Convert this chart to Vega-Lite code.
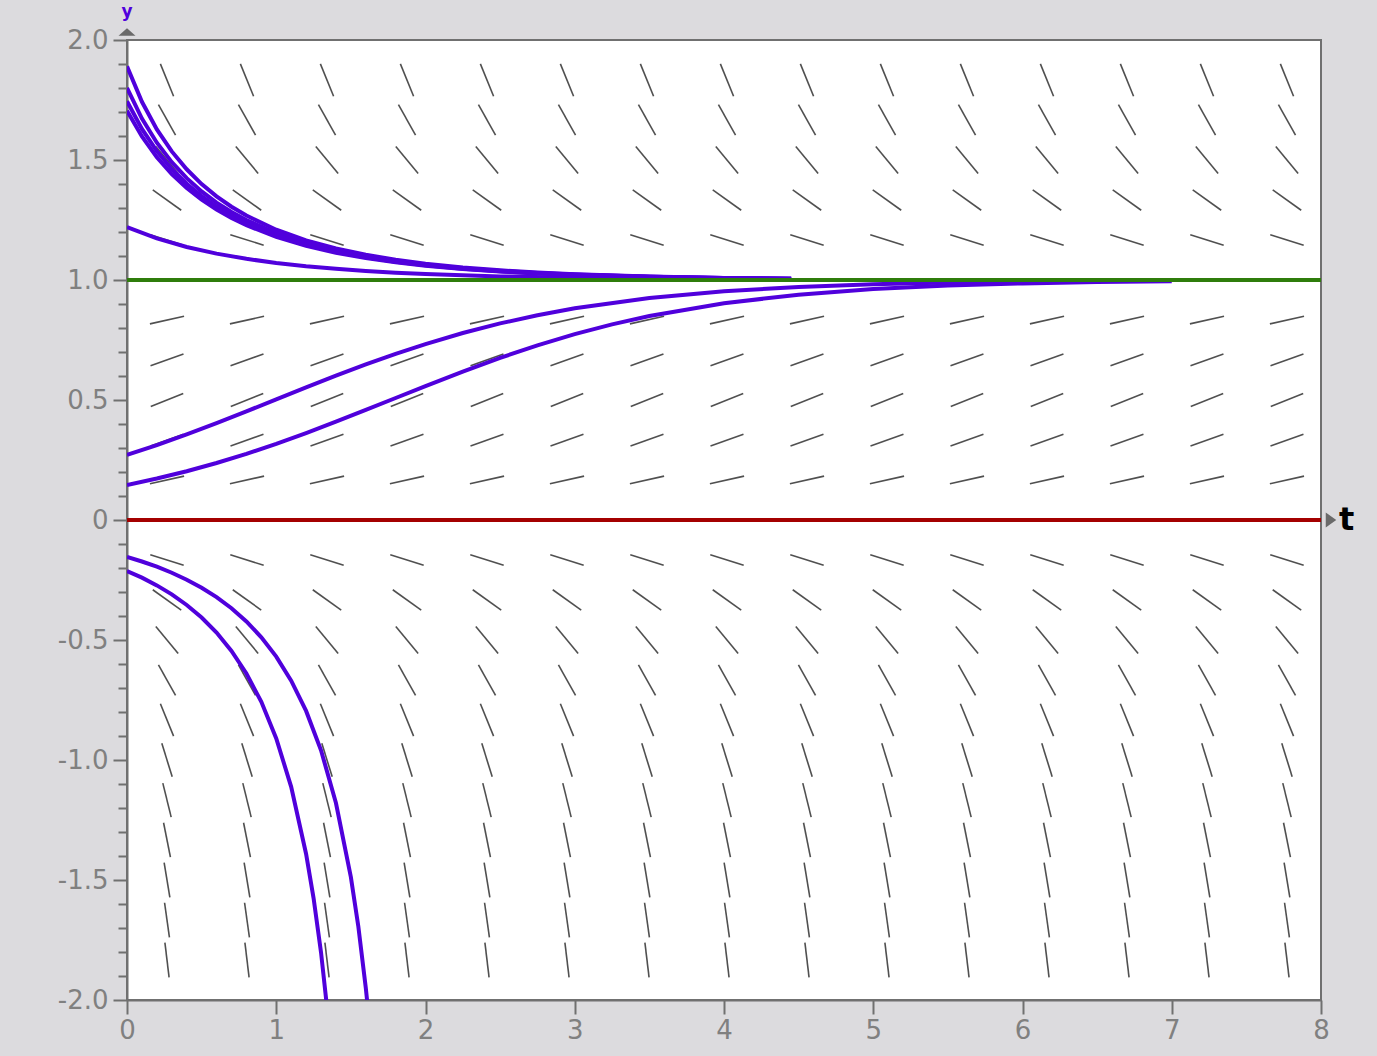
{
"$schema": "https://vega.github.io/schema/vega-lite/v6.json",
"width": 1194, "height": 960,
"autosize": {"type": "none"},
"padding": {"left": 127, "top": 40, "right": 56, "bottom": 56},
"background": "#dcdbde",
"config": {"view": {"fill": "#ffffff", "stroke": "#707070", "strokeWidth": 2}, "axis": {"grid": false},
"axisX": {"title": null, "values": [0,1,2,3,4,5,6,7,8], "labelExpr": "'' + datum.value", "tickSize": 14, "tickWidth": 2, "tickColor": "#707070", "domainColor": "#707070", "domainWidth": 2, "labelFont": "DejaVu Sans", "labelFontSize": 26, "labelColor": "#808080", "labelPadding": 3, "labelFlush": false, "labelOverlap": false}},
"datasets": {
"field": [
{"t":0.268,"y":1.833,"slope":-1.5278},{"t":0.804,"y":1.833,"slope":-1.5278},{"t":1.34,"y":1.833,"slope":-1.5278},{"t":1.876,"y":1.833,"slope":-1.5278},{"t":2.412,"y":1.833,"slope":-1.5278},{"t":2.948,"y":1.833,"slope":-1.5278},{"t":3.484,"y":1.833,"slope":-1.5278},{"t":4.02,"y":1.833,"slope":-1.5278},{"t":4.556,"y":1.833,"slope":-1.5278},{"t":5.092,"y":1.833,"slope":-1.5278},{"t":5.628,"y":1.833,"slope":-1.5278},{"t":6.164,"y":1.833,"slope":-1.5278},{"t":6.7,"y":1.833,"slope":-1.5278},{"t":7.236,"y":1.833,"slope":-1.5278},{"t":7.772,"y":1.833,"slope":-1.5278},
{"t":0.268,"y":1.667,"slope":-1.1111},{"t":0.804,"y":1.667,"slope":-1.1111},{"t":1.34,"y":1.667,"slope":-1.1111},{"t":1.876,"y":1.667,"slope":-1.1111},{"t":2.412,"y":1.667,"slope":-1.1111},{"t":2.948,"y":1.667,"slope":-1.1111},{"t":3.484,"y":1.667,"slope":-1.1111},{"t":4.02,"y":1.667,"slope":-1.1111},{"t":4.556,"y":1.667,"slope":-1.1111},{"t":5.092,"y":1.667,"slope":-1.1111},{"t":5.628,"y":1.667,"slope":-1.1111},{"t":6.164,"y":1.667,"slope":-1.1111},{"t":6.7,"y":1.667,"slope":-1.1111},{"t":7.236,"y":1.667,"slope":-1.1111},{"t":7.772,"y":1.667,"slope":-1.1111},
{"t":0.268,"y":1.5,"slope":-0.75},{"t":0.804,"y":1.5,"slope":-0.75},{"t":1.34,"y":1.5,"slope":-0.75},{"t":1.876,"y":1.5,"slope":-0.75},{"t":2.412,"y":1.5,"slope":-0.75},{"t":2.948,"y":1.5,"slope":-0.75},{"t":3.484,"y":1.5,"slope":-0.75},{"t":4.02,"y":1.5,"slope":-0.75},{"t":4.556,"y":1.5,"slope":-0.75},{"t":5.092,"y":1.5,"slope":-0.75},{"t":5.628,"y":1.5,"slope":-0.75},{"t":6.164,"y":1.5,"slope":-0.75},{"t":6.7,"y":1.5,"slope":-0.75},{"t":7.236,"y":1.5,"slope":-0.75},{"t":7.772,"y":1.5,"slope":-0.75},
{"t":0.268,"y":1.333,"slope":-0.4444},{"t":0.804,"y":1.333,"slope":-0.4444},{"t":1.34,"y":1.333,"slope":-0.4444},{"t":1.876,"y":1.333,"slope":-0.4444},{"t":2.412,"y":1.333,"slope":-0.4444},{"t":2.948,"y":1.333,"slope":-0.4444},{"t":3.484,"y":1.333,"slope":-0.4444},{"t":4.02,"y":1.333,"slope":-0.4444},{"t":4.556,"y":1.333,"slope":-0.4444},{"t":5.092,"y":1.333,"slope":-0.4444},{"t":5.628,"y":1.333,"slope":-0.4444},{"t":6.164,"y":1.333,"slope":-0.4444},{"t":6.7,"y":1.333,"slope":-0.4444},{"t":7.236,"y":1.333,"slope":-0.4444},{"t":7.772,"y":1.333,"slope":-0.4444},
{"t":0.268,"y":1.167,"slope":-0.1944},{"t":0.804,"y":1.167,"slope":-0.1944},{"t":1.34,"y":1.167,"slope":-0.1944},{"t":1.876,"y":1.167,"slope":-0.1944},{"t":2.412,"y":1.167,"slope":-0.1944},{"t":2.948,"y":1.167,"slope":-0.1944},{"t":3.484,"y":1.167,"slope":-0.1944},{"t":4.02,"y":1.167,"slope":-0.1944},{"t":4.556,"y":1.167,"slope":-0.1944},{"t":5.092,"y":1.167,"slope":-0.1944},{"t":5.628,"y":1.167,"slope":-0.1944},{"t":6.164,"y":1.167,"slope":-0.1944},{"t":6.7,"y":1.167,"slope":-0.1944},{"t":7.236,"y":1.167,"slope":-0.1944},{"t":7.772,"y":1.167,"slope":-0.1944},
{"t":0.268,"y":0.833,"slope":0.1389},{"t":0.804,"y":0.833,"slope":0.1389},{"t":1.34,"y":0.833,"slope":0.1389},{"t":1.876,"y":0.833,"slope":0.1389},{"t":2.412,"y":0.833,"slope":0.1389},{"t":2.948,"y":0.833,"slope":0.1389},{"t":3.484,"y":0.833,"slope":0.1389},{"t":4.02,"y":0.833,"slope":0.1389},{"t":4.556,"y":0.833,"slope":0.1389},{"t":5.092,"y":0.833,"slope":0.1389},{"t":5.628,"y":0.833,"slope":0.1389},{"t":6.164,"y":0.833,"slope":0.1389},{"t":6.7,"y":0.833,"slope":0.1389},{"t":7.236,"y":0.833,"slope":0.1389},{"t":7.772,"y":0.833,"slope":0.1389},
{"t":0.268,"y":0.667,"slope":0.2222},{"t":0.804,"y":0.667,"slope":0.2222},{"t":1.34,"y":0.667,"slope":0.2222},{"t":1.876,"y":0.667,"slope":0.2222},{"t":2.412,"y":0.667,"slope":0.2222},{"t":2.948,"y":0.667,"slope":0.2222},{"t":3.484,"y":0.667,"slope":0.2222},{"t":4.02,"y":0.667,"slope":0.2222},{"t":4.556,"y":0.667,"slope":0.2222},{"t":5.092,"y":0.667,"slope":0.2222},{"t":5.628,"y":0.667,"slope":0.2222},{"t":6.164,"y":0.667,"slope":0.2222},{"t":6.7,"y":0.667,"slope":0.2222},{"t":7.236,"y":0.667,"slope":0.2222},{"t":7.772,"y":0.667,"slope":0.2222},
{"t":0.268,"y":0.5,"slope":0.25},{"t":0.804,"y":0.5,"slope":0.25},{"t":1.34,"y":0.5,"slope":0.25},{"t":1.876,"y":0.5,"slope":0.25},{"t":2.412,"y":0.5,"slope":0.25},{"t":2.948,"y":0.5,"slope":0.25},{"t":3.484,"y":0.5,"slope":0.25},{"t":4.02,"y":0.5,"slope":0.25},{"t":4.556,"y":0.5,"slope":0.25},{"t":5.092,"y":0.5,"slope":0.25},{"t":5.628,"y":0.5,"slope":0.25},{"t":6.164,"y":0.5,"slope":0.25},{"t":6.7,"y":0.5,"slope":0.25},{"t":7.236,"y":0.5,"slope":0.25},{"t":7.772,"y":0.5,"slope":0.25},
{"t":0.268,"y":0.333,"slope":0.2222},{"t":0.804,"y":0.333,"slope":0.2222},{"t":1.34,"y":0.333,"slope":0.2222},{"t":1.876,"y":0.333,"slope":0.2222},{"t":2.412,"y":0.333,"slope":0.2222},{"t":2.948,"y":0.333,"slope":0.2222},{"t":3.484,"y":0.333,"slope":0.2222},{"t":4.02,"y":0.333,"slope":0.2222},{"t":4.556,"y":0.333,"slope":0.2222},{"t":5.092,"y":0.333,"slope":0.2222},{"t":5.628,"y":0.333,"slope":0.2222},{"t":6.164,"y":0.333,"slope":0.2222},{"t":6.7,"y":0.333,"slope":0.2222},{"t":7.236,"y":0.333,"slope":0.2222},{"t":7.772,"y":0.333,"slope":0.2222},
{"t":0.268,"y":0.167,"slope":0.1389},{"t":0.804,"y":0.167,"slope":0.1389},{"t":1.34,"y":0.167,"slope":0.1389},{"t":1.876,"y":0.167,"slope":0.1389},{"t":2.412,"y":0.167,"slope":0.1389},{"t":2.948,"y":0.167,"slope":0.1389},{"t":3.484,"y":0.167,"slope":0.1389},{"t":4.02,"y":0.167,"slope":0.1389},{"t":4.556,"y":0.167,"slope":0.1389},{"t":5.092,"y":0.167,"slope":0.1389},{"t":5.628,"y":0.167,"slope":0.1389},{"t":6.164,"y":0.167,"slope":0.1389},{"t":6.7,"y":0.167,"slope":0.1389},{"t":7.236,"y":0.167,"slope":0.1389},{"t":7.772,"y":0.167,"slope":0.1389},
{"t":0.268,"y":-0.167,"slope":-0.1944},{"t":0.804,"y":-0.167,"slope":-0.1944},{"t":1.34,"y":-0.167,"slope":-0.1944},{"t":1.876,"y":-0.167,"slope":-0.1944},{"t":2.412,"y":-0.167,"slope":-0.1944},{"t":2.948,"y":-0.167,"slope":-0.1944},{"t":3.484,"y":-0.167,"slope":-0.1944},{"t":4.02,"y":-0.167,"slope":-0.1944},{"t":4.556,"y":-0.167,"slope":-0.1944},{"t":5.092,"y":-0.167,"slope":-0.1944},{"t":5.628,"y":-0.167,"slope":-0.1944},{"t":6.164,"y":-0.167,"slope":-0.1944},{"t":6.7,"y":-0.167,"slope":-0.1944},{"t":7.236,"y":-0.167,"slope":-0.1944},{"t":7.772,"y":-0.167,"slope":-0.1944},
{"t":0.268,"y":-0.333,"slope":-0.4444},{"t":0.804,"y":-0.333,"slope":-0.4444},{"t":1.34,"y":-0.333,"slope":-0.4444},{"t":1.876,"y":-0.333,"slope":-0.4444},{"t":2.412,"y":-0.333,"slope":-0.4444},{"t":2.948,"y":-0.333,"slope":-0.4444},{"t":3.484,"y":-0.333,"slope":-0.4444},{"t":4.02,"y":-0.333,"slope":-0.4444},{"t":4.556,"y":-0.333,"slope":-0.4444},{"t":5.092,"y":-0.333,"slope":-0.4444},{"t":5.628,"y":-0.333,"slope":-0.4444},{"t":6.164,"y":-0.333,"slope":-0.4444},{"t":6.7,"y":-0.333,"slope":-0.4444},{"t":7.236,"y":-0.333,"slope":-0.4444},{"t":7.772,"y":-0.333,"slope":-0.4444},
{"t":0.268,"y":-0.5,"slope":-0.75},{"t":0.804,"y":-0.5,"slope":-0.75},{"t":1.34,"y":-0.5,"slope":-0.75},{"t":1.876,"y":-0.5,"slope":-0.75},{"t":2.412,"y":-0.5,"slope":-0.75},{"t":2.948,"y":-0.5,"slope":-0.75},{"t":3.484,"y":-0.5,"slope":-0.75},{"t":4.02,"y":-0.5,"slope":-0.75},{"t":4.556,"y":-0.5,"slope":-0.75},{"t":5.092,"y":-0.5,"slope":-0.75},{"t":5.628,"y":-0.5,"slope":-0.75},{"t":6.164,"y":-0.5,"slope":-0.75},{"t":6.7,"y":-0.5,"slope":-0.75},{"t":7.236,"y":-0.5,"slope":-0.75},{"t":7.772,"y":-0.5,"slope":-0.75},
{"t":0.268,"y":-0.667,"slope":-1.1111},{"t":0.804,"y":-0.667,"slope":-1.1111},{"t":1.34,"y":-0.667,"slope":-1.1111},{"t":1.876,"y":-0.667,"slope":-1.1111},{"t":2.412,"y":-0.667,"slope":-1.1111},{"t":2.948,"y":-0.667,"slope":-1.1111},{"t":3.484,"y":-0.667,"slope":-1.1111},{"t":4.02,"y":-0.667,"slope":-1.1111},{"t":4.556,"y":-0.667,"slope":-1.1111},{"t":5.092,"y":-0.667,"slope":-1.1111},{"t":5.628,"y":-0.667,"slope":-1.1111},{"t":6.164,"y":-0.667,"slope":-1.1111},{"t":6.7,"y":-0.667,"slope":-1.1111},{"t":7.236,"y":-0.667,"slope":-1.1111},{"t":7.772,"y":-0.667,"slope":-1.1111},
{"t":0.268,"y":-0.833,"slope":-1.5278},{"t":0.804,"y":-0.833,"slope":-1.5278},{"t":1.34,"y":-0.833,"slope":-1.5278},{"t":1.876,"y":-0.833,"slope":-1.5278},{"t":2.412,"y":-0.833,"slope":-1.5278},{"t":2.948,"y":-0.833,"slope":-1.5278},{"t":3.484,"y":-0.833,"slope":-1.5278},{"t":4.02,"y":-0.833,"slope":-1.5278},{"t":4.556,"y":-0.833,"slope":-1.5278},{"t":5.092,"y":-0.833,"slope":-1.5278},{"t":5.628,"y":-0.833,"slope":-1.5278},{"t":6.164,"y":-0.833,"slope":-1.5278},{"t":6.7,"y":-0.833,"slope":-1.5278},{"t":7.236,"y":-0.833,"slope":-1.5278},{"t":7.772,"y":-0.833,"slope":-1.5278},
{"t":0.268,"y":-1,"slope":-2},{"t":0.804,"y":-1,"slope":-2},{"t":1.34,"y":-1,"slope":-2},{"t":1.876,"y":-1,"slope":-2},{"t":2.412,"y":-1,"slope":-2},{"t":2.948,"y":-1,"slope":-2},{"t":3.484,"y":-1,"slope":-2},{"t":4.02,"y":-1,"slope":-2},{"t":4.556,"y":-1,"slope":-2},{"t":5.092,"y":-1,"slope":-2},{"t":5.628,"y":-1,"slope":-2},{"t":6.164,"y":-1,"slope":-2},{"t":6.7,"y":-1,"slope":-2},{"t":7.236,"y":-1,"slope":-2},{"t":7.772,"y":-1,"slope":-2},
{"t":0.268,"y":-1.167,"slope":-2.5278},{"t":0.804,"y":-1.167,"slope":-2.5278},{"t":1.34,"y":-1.167,"slope":-2.5278},{"t":1.876,"y":-1.167,"slope":-2.5278},{"t":2.412,"y":-1.167,"slope":-2.5278},{"t":2.948,"y":-1.167,"slope":-2.5278},{"t":3.484,"y":-1.167,"slope":-2.5278},{"t":4.02,"y":-1.167,"slope":-2.5278},{"t":4.556,"y":-1.167,"slope":-2.5278},{"t":5.092,"y":-1.167,"slope":-2.5278},{"t":5.628,"y":-1.167,"slope":-2.5278},{"t":6.164,"y":-1.167,"slope":-2.5278},{"t":6.7,"y":-1.167,"slope":-2.5278},{"t":7.236,"y":-1.167,"slope":-2.5278},{"t":7.772,"y":-1.167,"slope":-2.5278},
{"t":0.268,"y":-1.333,"slope":-3.1111},{"t":0.804,"y":-1.333,"slope":-3.1111},{"t":1.34,"y":-1.333,"slope":-3.1111},{"t":1.876,"y":-1.333,"slope":-3.1111},{"t":2.412,"y":-1.333,"slope":-3.1111},{"t":2.948,"y":-1.333,"slope":-3.1111},{"t":3.484,"y":-1.333,"slope":-3.1111},{"t":4.02,"y":-1.333,"slope":-3.1111},{"t":4.556,"y":-1.333,"slope":-3.1111},{"t":5.092,"y":-1.333,"slope":-3.1111},{"t":5.628,"y":-1.333,"slope":-3.1111},{"t":6.164,"y":-1.333,"slope":-3.1111},{"t":6.7,"y":-1.333,"slope":-3.1111},{"t":7.236,"y":-1.333,"slope":-3.1111},{"t":7.772,"y":-1.333,"slope":-3.1111},
{"t":0.268,"y":-1.5,"slope":-3.75},{"t":0.804,"y":-1.5,"slope":-3.75},{"t":1.34,"y":-1.5,"slope":-3.75},{"t":1.876,"y":-1.5,"slope":-3.75},{"t":2.412,"y":-1.5,"slope":-3.75},{"t":2.948,"y":-1.5,"slope":-3.75},{"t":3.484,"y":-1.5,"slope":-3.75},{"t":4.02,"y":-1.5,"slope":-3.75},{"t":4.556,"y":-1.5,"slope":-3.75},{"t":5.092,"y":-1.5,"slope":-3.75},{"t":5.628,"y":-1.5,"slope":-3.75},{"t":6.164,"y":-1.5,"slope":-3.75},{"t":6.7,"y":-1.5,"slope":-3.75},{"t":7.236,"y":-1.5,"slope":-3.75},{"t":7.772,"y":-1.5,"slope":-3.75},
{"t":0.268,"y":-1.667,"slope":-4.4444},{"t":0.804,"y":-1.667,"slope":-4.4444},{"t":1.34,"y":-1.667,"slope":-4.4444},{"t":1.876,"y":-1.667,"slope":-4.4444},{"t":2.412,"y":-1.667,"slope":-4.4444},{"t":2.948,"y":-1.667,"slope":-4.4444},{"t":3.484,"y":-1.667,"slope":-4.4444},{"t":4.02,"y":-1.667,"slope":-4.4444},{"t":4.556,"y":-1.667,"slope":-4.4444},{"t":5.092,"y":-1.667,"slope":-4.4444},{"t":5.628,"y":-1.667,"slope":-4.4444},{"t":6.164,"y":-1.667,"slope":-4.4444},{"t":6.7,"y":-1.667,"slope":-4.4444},{"t":7.236,"y":-1.667,"slope":-4.4444},{"t":7.772,"y":-1.667,"slope":-4.4444},
{"t":0.268,"y":-1.833,"slope":-5.1944},{"t":0.804,"y":-1.833,"slope":-5.1944},{"t":1.34,"y":-1.833,"slope":-5.1944},{"t":1.876,"y":-1.833,"slope":-5.1944},{"t":2.412,"y":-1.833,"slope":-5.1944},{"t":2.948,"y":-1.833,"slope":-5.1944},{"t":3.484,"y":-1.833,"slope":-5.1944},{"t":4.02,"y":-1.833,"slope":-5.1944},{"t":4.556,"y":-1.833,"slope":-5.1944},{"t":5.092,"y":-1.833,"slope":-5.1944},{"t":5.628,"y":-1.833,"slope":-5.1944},{"t":6.164,"y":-1.833,"slope":-5.1944},{"t":6.7,"y":-1.833,"slope":-5.1944},{"t":7.236,"y":-1.833,"slope":-5.1944},{"t":7.772,"y":-1.833,"slope":-5.1944}
],
"curves": [
{"c":"A","t":0,"y":1.89},{"c":"A","t":0.1,"y":1.7424},{"c":"A","t":0.2,"y":1.6275},{"c":"A","t":0.3,"y":1.5358},{"c":"A","t":0.4,"y":1.4613},{"c":"A","t":0.5,"y":1.3998},{"c":"A","t":0.6,"y":1.3485},{"c":"A","t":0.7,"y":1.3052},{"c":"A","t":0.8,"y":1.2684},{"c":"A","t":1.0,"y":1.2095},{"c":"A","t":1.2,"y":1.1653},{"c":"A","t":1.4,"y":1.1314},{"c":"A","t":1.6,"y":1.1051},{"c":"A","t":1.8,"y":1.0844},{"c":"A","t":2.0,"y":1.0681},{"c":"A","t":2.25,"y":1.0522},{"c":"A","t":2.5,"y":1.0402},{"c":"A","t":2.75,"y":1.031},{"c":"A","t":3.0,"y":1.024},{"c":"A","t":3.5,"y":1.0144},{"c":"A","t":4.0,"y":1.0087},{"c":"A","t":4.45,"y":1.0055},
{"c":"B","t":0,"y":1.8},{"c":"B","t":0.1,"y":1.6727},{"c":"B","t":0.2,"y":1.572},{"c":"B","t":0.3,"y":1.4909},{"c":"B","t":0.4,"y":1.4243},{"c":"B","t":0.5,"y":1.3691},{"c":"B","t":0.6,"y":1.3226},{"c":"B","t":0.7,"y":1.2832},{"c":"B","t":0.8,"y":1.2495},{"c":"B","t":1.0,"y":1.1955},{"c":"B","t":1.2,"y":1.1546},{"c":"B","t":1.4,"y":1.1231},{"c":"B","t":1.6,"y":1.0986},{"c":"B","t":1.8,"y":1.0793},{"c":"B","t":2.0,"y":1.064},{"c":"B","t":2.25,"y":1.0492},{"c":"B","t":2.5,"y":1.0379},{"c":"B","t":2.75,"y":1.0292},{"c":"B","t":3.0,"y":1.0226},{"c":"B","t":3.5,"y":1.0136},{"c":"B","t":4.0,"y":1.0082},{"c":"B","t":4.45,"y":1.0052},
{"c":"C","t":0,"y":1.745},{"c":"C","t":0.1,"y":1.6295},{"c":"C","t":0.2,"y":1.5374},{"c":"C","t":0.3,"y":1.4626},{"c":"C","t":0.4,"y":1.4009},{"c":"C","t":0.5,"y":1.3494},{"c":"C","t":0.6,"y":1.306},{"c":"C","t":0.7,"y":1.2691},{"c":"C","t":0.8,"y":1.2374},{"c":"C","t":1.0,"y":1.1863},{"c":"C","t":1.2,"y":1.1476},{"c":"C","t":1.4,"y":1.1177},{"c":"C","t":1.6,"y":1.0943},{"c":"C","t":1.8,"y":1.0759},{"c":"C","t":2.0,"y":1.0613},{"c":"C","t":2.25,"y":1.0471},{"c":"C","t":2.5,"y":1.0363},{"c":"C","t":2.75,"y":1.0281},{"c":"C","t":3.0,"y":1.0217},{"c":"C","t":3.5,"y":1.0131},{"c":"C","t":4.0,"y":1.0079},{"c":"C","t":4.45,"y":1.005},
{"c":"D","t":0,"y":1.705},{"c":"D","t":0.1,"y":1.5978},{"c":"D","t":0.2,"y":1.5118},{"c":"D","t":0.3,"y":1.4416},{"c":"D","t":0.4,"y":1.3835},{"c":"D","t":0.5,"y":1.3348},{"c":"D","t":0.6,"y":1.2935},{"c":"D","t":0.7,"y":1.2584},{"c":"D","t":0.8,"y":1.2282},{"c":"D","t":1.0,"y":1.1794},{"c":"D","t":1.2,"y":1.1423},{"c":"D","t":1.4,"y":1.1135},{"c":"D","t":1.6,"y":1.0911},{"c":"D","t":1.8,"y":1.0734},{"c":"D","t":2.0,"y":1.0593},{"c":"D","t":2.25,"y":1.0456},{"c":"D","t":2.5,"y":1.0351},{"c":"D","t":2.75,"y":1.0272},{"c":"D","t":3.0,"y":1.021},{"c":"D","t":3.5,"y":1.0126},{"c":"D","t":4.0,"y":1.0076},{"c":"D","t":4.45,"y":1.0049},
{"c":"E","t":0,"y":1.22},{"c":"E","t":0.2,"y":1.1732},{"c":"E","t":0.4,"y":1.1375},{"c":"E","t":0.6,"y":1.1098},{"c":"E","t":0.8,"y":1.0882},{"c":"E","t":1.0,"y":1.0711},{"c":"E","t":1.2,"y":1.0574},{"c":"E","t":1.4,"y":1.0465},{"c":"E","t":1.6,"y":1.0378},{"c":"E","t":1.8,"y":1.0307},{"c":"E","t":2.0,"y":1.025},{"c":"E","t":2.5,"y":1.015},{"c":"E","t":3.0,"y":1.0091},{"c":"E","t":3.5,"y":1.0055},{"c":"E","t":4.0,"y":1.0033},
{"c":"F","t":0,"y":0.271},{"c":"F","t":0.2,"y":0.3123},{"c":"F","t":0.4,"y":0.3567},{"c":"F","t":0.6,"y":0.4038},{"c":"F","t":0.8,"y":0.4528},{"c":"F","t":1.0,"y":0.5026},{"c":"F","t":1.2,"y":0.5524},{"c":"F","t":1.4,"y":0.6012},{"c":"F","t":1.6,"y":0.648},{"c":"F","t":1.8,"y":0.6922},{"c":"F","t":2.0,"y":0.7331},{"c":"F","t":2.25,"y":0.7791},{"c":"F","t":2.5,"y":0.8191},{"c":"F","t":2.75,"y":0.8533},{"c":"F","t":3.0,"y":0.8819},{"c":"F","t":3.5,"y":0.9249},{"c":"F","t":4.0,"y":0.953},{"c":"F","t":4.5,"y":0.971},{"c":"F","t":5.0,"y":0.9822},{"c":"F","t":5.5,"y":0.9891},{"c":"F","t":5.9,"y":0.9927},
{"c":"G","t":0,"y":0.146},{"c":"G","t":0.2,"y":0.1727},{"c":"G","t":0.4,"y":0.2032},{"c":"G","t":0.6,"y":0.2375},{"c":"G","t":0.8,"y":0.2756},{"c":"G","t":1.0,"y":0.3173},{"c":"G","t":1.2,"y":0.3621},{"c":"G","t":1.4,"y":0.4094},{"c":"G","t":1.6,"y":0.4585},{"c":"G","t":1.8,"y":0.5084},{"c":"G","t":2.0,"y":0.5582},{"c":"G","t":2.25,"y":0.6186},{"c":"G","t":2.5,"y":0.6756},{"c":"G","t":2.75,"y":0.7278},{"c":"G","t":3.0,"y":0.7745},{"c":"G","t":3.25,"y":0.8151},{"c":"G","t":3.5,"y":0.8499},{"c":"G","t":4.0,"y":0.9032},{"c":"G","t":4.5,"y":0.939},{"c":"G","t":5.0,"y":0.9621},{"c":"G","t":5.5,"y":0.9767},{"c":"G","t":6.0,"y":0.9857},{"c":"G","t":6.5,"y":0.9913},{"c":"G","t":7.0,"y":0.9947},
{"c":"H","t":0,"y":-0.154},{"c":"H","t":0.1,"y":-0.173},{"c":"H","t":0.2,"y":-0.1947},{"c":"H","t":0.3,"y":-0.2197},{"c":"H","t":0.4,"y":-0.2486},{"c":"H","t":0.5,"y":-0.2821},{"c":"H","t":0.6,"y":-0.3213},{"c":"H","t":0.7,"y":-0.3675},{"c":"H","t":0.8,"y":-0.4225},{"c":"H","t":0.9,"y":-0.4886},{"c":"H","t":1.0,"y":-0.5693},{"c":"H","t":1.1,"y":-0.6692},{"c":"H","t":1.2,"y":-0.7955},{"c":"H","t":1.3,"y":-0.9595},{"c":"H","t":1.4,"y":-1.1794},{"c":"H","t":1.5,"y":-1.4883},{"c":"H","t":1.55,"y":-1.6935},{"c":"H","t":1.6,"y":-1.9496},{"c":"H","t":1.62,"y":-2.0706},
{"c":"I","t":0,"y":-0.2125},{"c":"I","t":0.1,"y":-0.2402},{"c":"I","t":0.2,"y":-0.2724},{"c":"I","t":0.3,"y":-0.3099},{"c":"I","t":0.4,"y":-0.354},{"c":"I","t":0.5,"y":-0.4064},{"c":"I","t":0.6,"y":-0.4692},{"c":"I","t":0.7,"y":-0.5454},{"c":"I","t":0.8,"y":-0.6395},{"c":"I","t":0.9,"y":-0.7577},{"c":"I","t":1.0,"y":-0.9099},{"c":"I","t":1.1,"y":-1.112},{"c":"I","t":1.2,"y":-1.3916},{"c":"I","t":1.25,"y":-1.5754},{"c":"I","t":1.3,"y":-1.8017},{"c":"I","t":1.35,"y":-2.0868}
],
"eq": [{"y":1,"kind":"stable"},{"y":0,"kind":"unstable"}]
},
"resolve": {"axis": {"y": "independent"}},
"layer": [
{
"data": {"name": "field"},
"mark": {"type": "point", "shape": "stroke", "size": 1225, "filled": false, "stroke": "#505050", "strokeWidth": 1.6, "opacity": 1},
"encoding": {
"x": {"field": "t", "type": "quantitative", "scale": {"domain": [0, 8], "nice": false, "zero": false},
"axis": {"title": null, "values": [0,1,2,3,4,5,6,7,8], "labelExpr": "'' + datum.value", "tickSize": 14, "tickWidth": 2, "tickColor": "#707070", "domainColor": "#707070", "domainWidth": 2, "labelFont": "DejaVu Sans", "labelFontSize": 26, "labelColor": "#808080", "labelPadding": 3, "labelFlush": false, "labelOverlap": false, "grid": false}},
"y": {"field": "y", "type": "quantitative", "scale": {"domain": [-2, 2], "nice": false, "zero": false},
"axis": {"orient": "left", "title": null, "values": [-2,-1.5,-1,-0.5,0,0.5,1,1.5,2], "labelExpr": "datum.value == 0 ? '0' : (datum.value < 0 ? '-' : '') + format(abs(datum.value), '.1f')", "tickSize": 14, "tickWidth": 2, "tickColor": "#707070", "domainColor": "#707070", "domainWidth": 2, "labelFont": "DejaVu Sans", "labelFontSize": 26, "labelColor": "#808080", "labelPadding": 5, "labelFlush": false, "labelOverlap": false, "grid": false}},
"angle": {"field": "slope", "type": "quantitative", "scale": {"type": "linear", "domain": [-5.1944,-4.4444,-3.75,-3.1111,-2.5278,-2,-1.5278,-1.1111,-0.75,-0.4444,-0.1944,0.1389,0.2222,0.25], "range": [83.17,82.03,80.58,78.70,76.18,72.73,67.85,60.77,50.33,35.55,17.36,-12.59,-19.66,-21.90], "zero": false, "nice": false}}
}
},
{
"data": {"name": "curves"},
"mark": {"type": "line", "color": "#5000dc", "strokeWidth": 4, "clip": true},
"encoding": {
"x": {"field": "t", "type": "quantitative"},
"y": {"field": "y", "type": "quantitative",
"axis": {"orient": "left", "title": null, "values": [-1.9,-1.8,-1.7,-1.6,-1.4,-1.3,-1.2,-1.1,-0.9,-0.8,-0.7,-0.6,-0.4,-0.3,-0.2,-0.1,0.1,0.2,0.3,0.4,0.6,0.7,0.8,0.9,1.1,1.2,1.3,1.4,1.6,1.7,1.8,1.9], "labels": false, "domain": false, "tickSize": 9, "tickWidth": 2, "tickColor": "#707070", "grid": false}},
"detail": {"field": "c"}
}
},
{
"data": {"name": "eq"},
"mark": {"type": "rule", "strokeWidth": 4},
"encoding": {
"y": {"field": "y", "type": "quantitative", "axis": null},
"color": {"field": "kind", "type": "nominal", "scale": {"domain": ["stable", "unstable"], "range": ["#2f7d0c", "#a40000"]}, "legend": null}
}
},
{
"data": {"values": [{"t": 8, "y": 0}]},
"mark": {"type": "point", "shape": "M-0.7,-1L0.7,0L-0.7,1Z", "size": 225, "filled": true, "color": "#6a6a6a", "opacity": 1, "xOffset": 10},
"encoding": {"x": {"field": "t", "type": "quantitative"}, "y": {"field": "y", "type": "quantitative", "axis": null}}
},
{
"data": {"values": [{"t": 0, "y": 2}]},
"mark": {"type": "point", "shape": "M-1,0.45L0,-0.45L1,0.45Z", "size": 289, "filled": true, "color": "#6a6a6a", "opacity": 1, "yOffset": -8},
"encoding": {"x": {"field": "t", "type": "quantitative"}, "y": {"field": "y", "type": "quantitative", "axis": null}}
},
{
"data": {"values": [{"t": 8, "y": 0, "lab": "t"}]},
"mark": {"type": "text", "align": "left", "baseline": "middle", "dx": 18, "font": "DejaVu Sans", "fontWeight": "bold", "fontSize": 32, "color": "#000000"},
"encoding": {"x": {"field": "t", "type": "quantitative"}, "y": {"field": "y", "type": "quantitative", "axis": null}, "text": {"field": "lab"}}
},
{
"data": {"values": [{"t": 0, "y": 2, "lab": "y"}]},
"mark": {"type": "text", "align": "center", "baseline": "top", "dy": -36, "font": "DejaVu Sans", "fontWeight": "bold", "fontSize": 17, "color": "#5000dc"},
"encoding": {"x": {"field": "t", "type": "quantitative"}, "y": {"field": "y", "type": "quantitative", "axis": null}, "text": {"field": "lab"}}
}
]
}
